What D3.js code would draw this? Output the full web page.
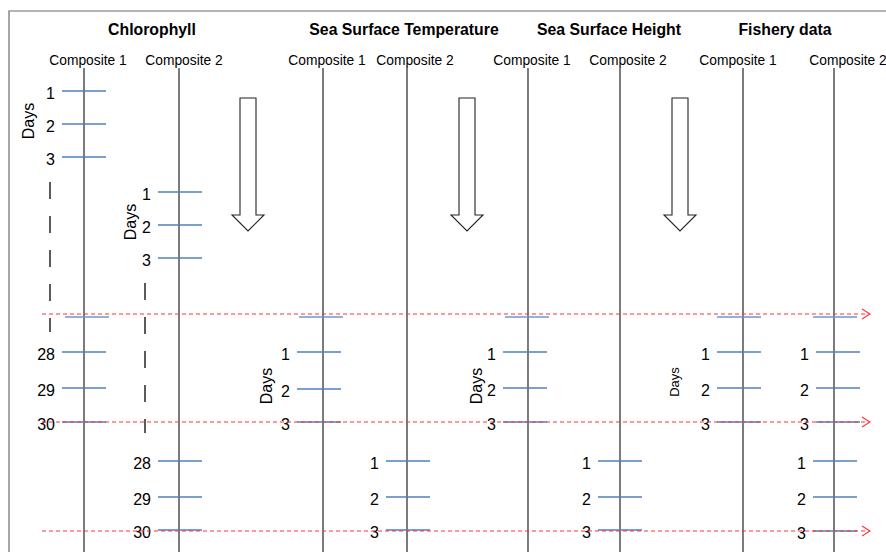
<!DOCTYPE html>
<html>
<head>
<meta charset="utf-8">
<script src="https://cdn.jsdelivr.net/npm/d3@7"></script>
<style>
  html, body { margin: 0; padding: 0; background: #fff; }
  svg { display: block; font-family: "Liberation Sans", Arial, sans-serif; }
</style>
</head>
<body>
<svg id="chart" width="886" height="552"></svg>
<script>
// ---------- data ----------
const variables   = ["Chlorophyll", "Sea Surface Temperature", "Sea Surface Height", "Fishery data"];
const composites  = ["Composite 1", "Composite 2"];
const daysLabel   = "Days";

// Day-slot tick groups: which composite axis (0..7), the day labels, and the time slot of each tick
const tickAxis    = [0, 0, 1, 1, 2, 3, 4, 5, 6, 7, 7];
const tickLabels  = [
  ["1", "2", "3"], ["28", "29", "30"],
  ["1", "2", "3"], ["28", "29", "30"],
  ["1", "2", "3"], ["1", "2", "3"],
  ["1", "2", "3"], ["1", "2", "3"],
  ["1", "2", "3"],
  ["1", "2", "3"], ["1", "2", "3"]
];
const tickSlots   = [
  [91, 124, 157], [352, 388, 422],
  [192, 225, 258], [461, 497, 530],
  [352, 389, 422], [461, 497, 530],
  [352, 388, 422], [461, 497, 530],
  [352, 388, 422],
  [352, 388, 422], [461, 497, 531]
];
// unlabelled ticks at the composite boundary
const boundaryAxis = [0, 2, 4, 6, 7];
const boundarySlot = 317;
// time slots of the synchronisation lines (red dashed arrows)
const syncSlots   = [314, 422, 531];
// elided day ranges (dashed black lines): axis, slot start, slot end
const gapAxis     = [0, 1];
const gapSlots    = [[182, 332], [283, 433]];

// ---------- layout ----------
const W = 886, H = 552;
const x = d3.scaleIdentity().domain([0, W]);
const y = d3.scaleIdentity().domain([0, H]);

const axisX      = [84, 179, 323, 407, 528, 620, 743, 834];
const compLabelX = [88, 184, 327, 415, 532, 628, 738, 848];
const titleX     = [152, 404, 609, 785];
const tickStart  = [-22, -22, -21, -21, -26, -21, -25, -22, -26, -18, -21];
const boundStart = [-19, -24, -23, -26, -21];
const tickLen    = 44;
const gapX       = [50, 145];
const daysPos    = [[28, 121, 16], [130, 222, 16], [266, 386, 16], [476, 386, 16], [674, 382, 13]];
const arrowX     = [248, 467, 680];

const BLUE = "#4f81bd", RED = "#ff3333";

const svg = d3.select("#chart");

// frame
svg.append("path")
  .attr("d", `M${x(9)},${y(H)}V${y(11)}H${x(W)}`)
  .attr("fill", "none").attr("stroke", "#6b6b6b").attr("stroke-width", 1.2);

// titles
svg.selectAll("text.title").data(variables).join("text")
  .attr("class", "title")
  .attr("x", (d, i) => x(titleX[i])).attr("y", y(35))
  .attr("text-anchor", "middle")
  .attr("font-size", 15.8).attr("font-weight", "bold")
  .text(d => d);

// composite labels (two per variable)
const compData = d3.range(8).map(i => composites[i % 2]);
svg.selectAll("text.comp").data(compData).join("text")
  .attr("class", "comp")
  .attr("x", (d, i) => x(compLabelX[i])).attr("y", y(65))
  .attr("text-anchor", "middle")
  .attr("font-size", 13.8)
  .text(d => d);

// vertical composite axes
svg.selectAll("line.axis").data(axisX).join("line")
  .attr("class", "axis")
  .attr("x1", d => x(d)).attr("x2", d => x(d))
  .attr("y1", y(68)).attr("y2", y(H))
  .attr("stroke", "#444").attr("stroke-width", 1.4);

// elided-range dashed lines
svg.selectAll("line.gap").data(gapAxis).join("line")
  .attr("class", "gap")
  .attr("x1", (d, i) => x(gapX[i])).attr("x2", (d, i) => x(gapX[i]))
  .attr("y1", (d, i) => y(gapSlots[i][0])).attr("y2", (d, i) => y(gapSlots[i][1]))
  .attr("stroke", "#333").attr("stroke-width", 1.6)
  .attr("stroke-dasharray", "17,17");

// day ticks + labels
const tickData = [];
tickAxis.forEach((a, g) => {
  tickSlots[g].forEach((s, k) => tickData.push({ a, g, s, label: tickLabels[g][k] }));
});
const tg = svg.append("g");
tg.selectAll("line").data(tickData).join("line")
  .attr("x1", d => x(axisX[d.a] + tickStart[d.g]))
  .attr("x2", d => x(axisX[d.a] + tickStart[d.g] + tickLen))
  .attr("y1", d => y(d.s)).attr("y2", d => y(d.s))
  .attr("stroke", BLUE).attr("stroke-width", 1.3);

// boundary ticks
svg.selectAll("line.bound").data(boundaryAxis).join("line")
  .attr("class", "bound")
  .attr("x1", (d, i) => x(axisX[d] + boundStart[i]))
  .attr("x2", (d, i) => x(axisX[d] + boundStart[i] + tickLen))
  .attr("y1", y(boundarySlot)).attr("y2", y(boundarySlot))
  .attr("stroke", "#6f97cf").attr("stroke-width", 1.3);

// red dashed synchronisation lines with open arrowheads
const sg = svg.append("g");
sg.selectAll("line").data(syncSlots).join("line")
  .attr("x1", x(42)).attr("x2", x(869))
  .attr("y1", d => y(d)).attr("y2", d => y(d))
  .attr("stroke", RED).attr("stroke-width", 1.2)
  .attr("stroke-dasharray", "4,3");
sg.selectAll("path").data(syncSlots).join("path")
  .attr("d", d => `M${x(862)},${y(d) - 5}L${x(870)},${y(d)}L${x(862)},${y(d) + 5}`)
  .attr("fill", "none").attr("stroke", RED).attr("stroke-width", 1.1);

// day labels (drawn over lines)
tg.selectAll("text").data(tickData).join("text")
  .attr("x", d => x(axisX[d.a] + tickStart[d.g] - 7))
  .attr("y", d => y(d.s) + 7.5)
  .attr("text-anchor", "end")
  .attr("font-size", 16)
  .text(d => d.label);

// "Days" labels
svg.selectAll("text.days").data(daysPos).join("text")
  .attr("class", "days")
  .attr("transform", d => `translate(${x(d[0])},${y(d[1])}) rotate(-90)`)
  .attr("text-anchor", "middle").attr("dominant-baseline", "central")
  .attr("font-size", d => d[2])
  .text(daysLabel);

// block down arrows
const arrowPath = cx => {
  const top = y(98), neck = y(215), tip = y(231);
  return `M${cx - 8},${top}H${cx + 8}V${neck}H${cx + 16}L${cx},${tip}L${cx - 16},${neck}H${cx - 8}Z`;
};
svg.selectAll("path.arrow").data(arrowX).join("path")
  .attr("class", "arrow")
  .attr("d", d => arrowPath(x(d)))
  .attr("fill", "#fff").attr("stroke", "#222").attr("stroke-width", 1.1);
</script>
</body>
</html>
